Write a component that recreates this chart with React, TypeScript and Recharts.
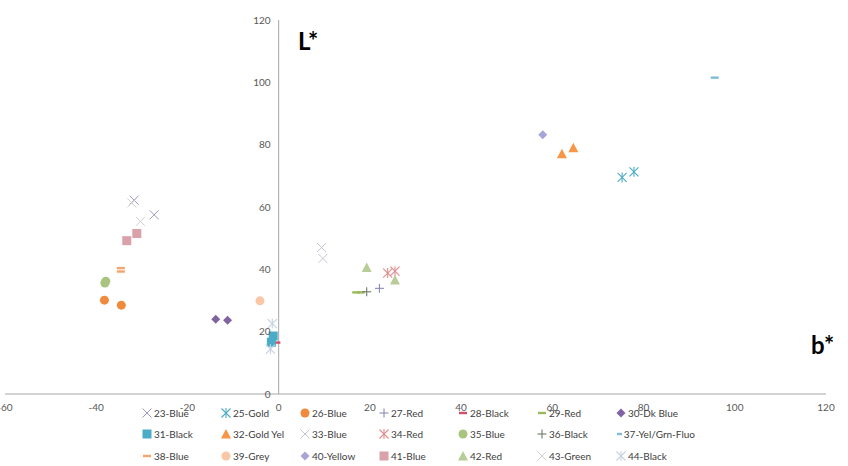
import React from 'react';
import { ScatterChart, Scatter, XAxis, YAxis, ReferenceLine } from 'recharts';

// ---- data (b*, L*) ----
const s23Blue = [{ b: -31.7, L: 62.2 }, { b: -27.3, L: 57.5 }];
const s25Gold = [{ b: 75.3, L: 69.5 }, { b: 77.9, L: 71.3 }];
const s26Blue = [{ b: -38.2, L: 30.1 }, { b: -34.5, L: 28.5 }];
const s27Red = [{ b: 22.1, L: 33.9 }];
const s28Black = [{ b: -0.5, L: 16.5 }];
const s29Red = [{ b: 17.0, L: 32.6 }, { b: 18.0, L: 32.6 }];
const s30DkBlue = [{ b: -13.8, L: 24.0 }, { b: -11.2, L: 23.7 }];
const s31Black = [{ b: -1.2, L: 18.6 }, { b: -1.6, L: 16.6 }];
const s32GoldYel = [{ b: 62.1, L: 77.1 }, { b: 64.6, L: 79.0 }];
const s33Blue = [{ b: 9.4, L: 47.0 }, { b: 9.7, L: 43.5 }];
const s34Red = [{ b: 23.9, L: 38.8 }, { b: 25.5, L: 39.4 }];
const s35Blue = [{ b: -38.1, L: 35.6 }, { b: -37.9, L: 36.2 }];
const s36Black = [{ b: 19.3, L: 32.8 }];
const s37YelGrn = [{ b: 95.6, L: 101.5 }];
const s38Blue = [{ b: -34.6, L: 40.4 }, { b: -34.6, L: 39.3 }];
const s39Grey = [{ b: -4.1, L: 29.9 }];
const s40Yellow = [{ b: 57.9, L: 83.2 }];
const s41Blue = [{ b: -33.3, L: 49.2 }, { b: -31.1, L: 51.5 }];
const s42Red = [{ b: 19.3, L: 40.6 }, { b: 25.5, L: 36.6 }];
const s43Green = [{ b: -32.2, L: 61.3 }, { b: -30.3, L: 55.4 }];
const s44Black = [{ b: -1.4, L: 22.6 }, { b: -1.8, L: 14.4 }];

const xTicks = [-60, -40, -20, 0, 20, 40, 60, 80, 100, 120];
const yTicks = [0, 20, 40, 60, 80, 100, 120];

type Kind = 'x' | 'star' | 'circle' | 'plus' | 'dash' | 'diamond' | 'square' | 'triangle';

const series: { name: string; data: { b: number; L: number }[]; kind: Kind; color: string }[] = [
  { name: '23-Blue', data: s23Blue, kind: 'x', color: '#9a9abf' },
  { name: '25-Gold', data: s25Gold, kind: 'star', color: '#4bacc6' },
  { name: '26-Blue', data: s26Blue, kind: 'circle', color: '#f08a3c' },
  { name: '27-Red', data: s27Red, kind: 'plus', color: '#8a8ab8' },
  { name: '28-Black', data: s28Black, kind: 'dash', color: '#d0506a' },
  { name: '29-Red', data: s29Red, kind: 'dash', color: '#9bbb59' },
  { name: '30-Dk Blue', data: s30DkBlue, kind: 'diamond', color: '#8064a2' },
  { name: '31-Black', data: s31Black, kind: 'square', color: '#4bacc6' },
  { name: '32-Gold Yel', data: s32GoldYel, kind: 'triangle', color: '#f79646' },
  { name: '33-Blue', data: s33Blue, kind: 'x', color: '#c4c4d4' },
  { name: '34-Red', data: s34Red, kind: 'star', color: '#e08c8c' },
  { name: '35-Blue', data: s35Blue, kind: 'circle', color: '#a9c47f' },
  { name: '36-Black', data: s36Black, kind: 'plus', color: '#6f7a6a' },
  { name: '37-Yel/Grn-Fluo', data: s37YelGrn, kind: 'dash', color: '#7fbcd6' },
  { name: '38-Blue', data: s38Blue, kind: 'dash', color: '#f4a46c' },
  { name: '39-Grey', data: s39Grey, kind: 'circle', color: '#f9c6a6' },
  { name: '40-Yellow', data: s40Yellow, kind: 'diamond', color: '#a6a6d6' },
  { name: '41-Blue', data: s41Blue, kind: 'square', color: '#d9a2aa' },
  { name: '42-Red', data: s42Red, kind: 'triangle', color: '#b8cc98' },
  { name: '43-Green', data: s43Green, kind: 'x', color: '#cfcfcf' },
  { name: '44-Black', data: s44Black, kind: 'star', color: '#c4d2e2' },
];

const W = 848;
const H = 466;
const M = { top: 20, right: 22, left: 4, bottom: 0 };
const YAXIS_W = 1;
const XAXIS_H = 72;
const XMIN = -60;
const XMAX = 120;
const PLOT_LEFT = M.left + YAXIS_W;
const PLOT_W = W - PLOT_LEFT - M.right;
const ZERO_X = PLOT_LEFT + (PLOT_W * (0 - XMIN)) / (XMAX - XMIN);
const FONT = 'Lato, "Open Sans", sans-serif';

function Marker({ kind, color, cx, cy }: { kind: Kind; color: string; cx: number; cy: number }) {
  const r = 4.5;
  switch (kind) {
    case 'circle':
      return <circle cx={cx} cy={cy} r={r} fill={color} />;
    case 'square':
      return <rect x={cx - r} y={cy - r} width={2 * r} height={2 * r} fill={color} />;
    case 'diamond':
      return <polygon points={`${cx},${cy - r} ${cx + r},${cy} ${cx},${cy + r} ${cx - r},${cy}`} fill={color} />;
    case 'triangle':
      return <polygon points={`${cx},${cy - 5} ${cx + 5},${cy + 4.5} ${cx - 5},${cy + 4.5}`} fill={color} />;
    case 'x':
      return (
        <g stroke={color} strokeWidth={1}>
          <line x1={cx - r} y1={cy - r} x2={cx + r} y2={cy + r} />
          <line x1={cx - r} y1={cy + r} x2={cx + r} y2={cy - r} />
        </g>
      );
    case 'star':
      return (
        <g stroke={color} strokeWidth={1.1}>
          <line x1={cx - r} y1={cy - r} x2={cx + r} y2={cy + r} />
          <line x1={cx - r} y1={cy + r} x2={cx + r} y2={cy - r} />
          <line x1={cx} y1={cy - r - 0.5} x2={cx} y2={cy + r + 0.5} />
        </g>
      );
    case 'plus':
      return (
        <g stroke={color} strokeWidth={1.1}>
          <line x1={cx - r} y1={cy} x2={cx + r} y2={cy} />
          <line x1={cx} y1={cy - r} x2={cx} y2={cy + r} />
        </g>
      );
    case 'dash':
    default:
      return <rect x={cx - 4} y={cy - 1.2} width={8} height={2.4} fill={color} />;
  }
}

const makeShape = (kind: Kind, color: string) => (props: any) => (
  <Marker kind={kind} color={color} cx={props.cx} cy={props.cy} />
);

const renderYTick = (props: any) => {
  const { y, payload } = props;
  return (
    <text x={ZERO_X - 8} y={y} dy="0.355em" textAnchor="end" fontSize={10} fill="#595959" fontFamily={FONT}>
      {payload.value}
    </text>
  );
};

export default function App() {
  return (
    <div style={{ position: 'absolute', left: 0, top: 0, width: W, height: H, background: '#fff', fontFamily: FONT }}>
      <ScatterChart width={W} height={H} margin={M}>
        <XAxis
          type="number"
          dataKey="b"
          domain={[XMIN, XMAX]}
          ticks={xTicks}
          interval={0}
          height={XAXIS_H}
          axisLine={{ stroke: '#a6a6a6' }}
          tickLine={false}
          tickSize={0}
          tickMargin={10}
          tick={{ fontSize: 10, fill: '#595959', fontFamily: FONT }}
        />
        <YAxis
          type="number"
          dataKey="L"
          domain={[0, 120]}
          ticks={yTicks}
          interval={0}
          width={YAXIS_W}
          axisLine={false}
          tickLine={false}
          tick={renderYTick}
        />
        <ReferenceLine x={0} stroke="#a6a6a6" strokeWidth={1} />
        {series.map((s) => (
          <Scatter
            key={s.name}
            name={s.name}
            data={s.data}
            shape={makeShape(s.kind, s.color)}
            isAnimationActive={false}
          />
        ))}
      </ScatterChart>

      <div style={{ position: 'absolute', left: 298, top: 29, fontSize: 24, lineHeight: '24px', fontWeight: 700, color: '#000' }}>L*</div>
      <div style={{ position: 'absolute', left: 811, top: 333, fontSize: 24, lineHeight: '24px', fontWeight: 700, color: '#000' }}>b*</div>

      <div
        style={{
          position: 'absolute',
          left: 142,
          top: 402,
          display: 'grid',
          gridTemplateColumns: 'repeat(7, 79px)',
          gridAutoRows: '21.5px',
          fontSize: 10,
          color: '#404040',
        }}
      >
        {series.map((s) => (
          <div key={s.name} style={{ display: 'flex', alignItems: 'center', whiteSpace: 'nowrap' }}>
            <svg width={10} height={10} style={{ marginRight: 2 }}>
              <Marker kind={s.kind} color={s.color} cx={5} cy={5} />
            </svg>
            <span>{s.name}</span>
          </div>
        ))}
      </div>
    </div>
  );
}
